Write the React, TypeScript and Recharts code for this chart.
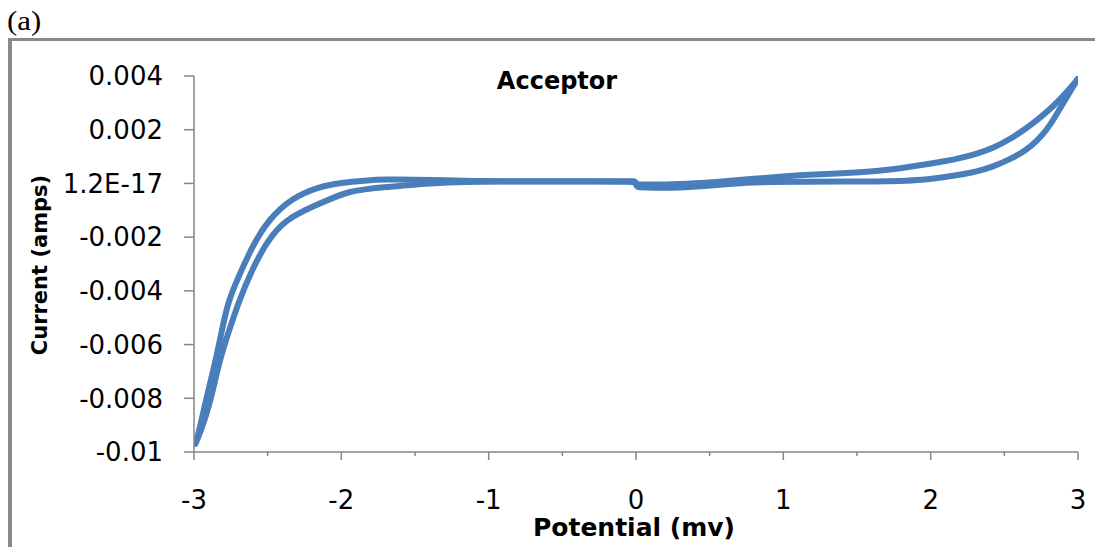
import React from 'react';
import { LineChart, Line, XAxis, YAxis } from 'recharts';

// Forward scan (upper branch), potential in mV, current in amps
const forwardPotential = [-3.0, -2.98, -2.925, -2.857, -2.812, -2.769, -2.7, -2.606, -2.498, -2.335, -2.158, -2.0, -1.839, -1.7, -1.5, -1.3, -1.1, -0.9, -0.6, -0.3, -0.02, -0.01, -0.01, 0.01, 0.01, 0.2, 0.4, 0.6, 0.8, 1.0, 1.16, 1.4, 1.609, 1.8, 1.948, 2.1, 2.2, 2.32, 2.424, 2.54, 2.654, 2.745, 2.83, 2.915, 2.993, 3.0];
const forwardCurrent = [-0.0097, -0.0096, -0.0082, -0.0067, -0.0055, -0.0044, -0.0035, -0.00236, -0.00136, -0.00054, -0.00013, 0.00003, 0.00011, 0.00015, 0.00014, 0.00012, 0.00009, 0.00008, 0.00008, 0.00008, 0.00008, 0.00008, 0.00008, -0.00004, -0.00004, -0.00005, 0.0, 0.00008, 0.00017, 0.00026, 0.00032, 0.00038, 0.00044, 0.00057, 0.00069, 0.00083, 0.00094, 0.00112, 0.00132, 0.00165, 0.00207, 0.00246, 0.00286, 0.00334, 0.00385, 0.0039];

// Reverse scan (lower branch)
const reversePotential = [3.0, 2.95, 2.9, 2.85, 2.788, 2.72, 2.652, 2.54, 2.426, 2.32, 2.199, 2.05, 1.948, 1.8, 1.609, 1.4, 1.161, 0.9, 0.774, 0.5, 0.3, 0.1, 0.01, 0.01, -0.01, -0.01, -0.3, -0.6, -0.9, -1.147, -1.4, -1.6, -1.738, -1.839, -1.941, -2.043, -2.199, -2.382, -2.498, -2.606, -2.7, -2.769, -2.823, -2.891, -2.952, -2.99];
const reverseCurrent = [0.0039, 0.00345, 0.003, 0.00252, 0.00199, 0.00158, 0.00125, 0.0009, 0.00063, 0.00045, 0.00032, 0.0002, 0.00013, 0.00009, 0.00007, 0.00007, 0.00007, 0.00005, 0.00004, -0.00008, -0.00017, -0.00016, -0.00014, -0.00014, 0.00006, 0.00006, 0.00007, 0.00007, 0.00007, 0.00006, 0.0, -0.00009, -0.00015, -0.00022, -0.0003, -0.0005, -0.00087, -0.00136, -0.0021, -0.0032, -0.00445, -0.0056, -0.0065, -0.0082, -0.0092, -0.0097];

const xTickValues = [-3, -2.5, -2, -1.5, -1, -0.5, 0, 0.5, 1, 1.5, 2, 2.5, 3];
const xMajorValues = [-3, -2, -1, 0, 1, 2, 3];
const xTickLabels = ['-3', '-2', '-1', '0', '1', '2', '3'];

const yTickValues = [-0.01, -0.008, -0.006, -0.004, -0.002, 0, 0.002, 0.004];
const yTickLabels = ['-0.01', '-0.008', '-0.006', '-0.004', '-0.002', '1.2E-17', '0.002', '0.004'];

const forwardData = forwardPotential.map((x, i) => ({ x, y: forwardCurrent[i] }));
const reverseData = reversePotential.map((x, i) => ({ x, y: reverseCurrent[i] }));

const AXIS = '#868686';
const BLUE = '#4a7ebb';
const FONT = '"DejaVu Sans", sans-serif';

const XTick = (props: any) => {
  const { x, y, payload } = props;
  const v = payload.value;
  const idx = xMajorValues.findIndex((m) => Math.abs(m - v) < 1e-9);
  const major = idx >= 0;
  return (
    <g>
      <line x1={x} x2={x} y1={y} y2={y + (major ? 8 : 4)} stroke={AXIS} strokeWidth={1.5} />
      {major && (
        <text x={x} y={y + 57} textAnchor="middle" fontFamily={FONT} fontSize={26} fill="#000">
          {xTickLabels[idx]}
        </text>
      )}
    </g>
  );
};

const yFormat = (v: number) => {
  const idx = yTickValues.findIndex((t) => Math.abs(t - v) < 1e-9);
  return idx >= 0 ? yTickLabels[idx] : String(v);
};

export default function App() {
  return (
    <div style={{ position: 'fixed', left: 0, top: 0, width: 1095, height: 547, overflow: 'hidden', background: '#fff' }}>
      <div style={{ position: 'absolute', left: 7, top: 6, fontFamily: '"Liberation Serif", serif', fontSize: 28, color: '#000', lineHeight: '30px', transform: 'scaleX(1.1)', transformOrigin: 'left top' }}>(a)</div>
      <div style={{ position: 'absolute', left: 8, top: 38, width: 1087, height: 3, background: '#898989' }} />
      <div style={{ position: 'absolute', left: 8, top: 38, width: 4, height: 509, background: '#898989' }} />
      <div style={{ position: 'absolute', left: 0, top: 0 }}>
        <LineChart width={1095} height={547} data={forwardData} margin={{ top: 76, right: 17, bottom: 35, left: 44 }}>
          <XAxis
            type="number"
            dataKey="x"
            domain={[-3, 3]}
            ticks={xTickValues}
            interval={0}
            allowDataOverflow
            height={60}
            tickSize={0}
            tickMargin={0}
            tickLine={false}
            axisLine={{ stroke: AXIS, strokeWidth: 1.5 }}
            tick={<XTick />}
          />
          <YAxis
            type="number"
            dataKey="y"
            domain={[-0.01, 0.004]}
            ticks={yTickValues}
            interval={0}
            allowDataOverflow
            width={150}
            tickSize={10}
            tickMargin={21}
            tickFormatter={yFormat}
            tickLine={{ stroke: AXIS, strokeWidth: 1.5 }}
            axisLine={{ stroke: AXIS, strokeWidth: 1.5 }}
            tick={{ fontFamily: FONT, fontSize: 26, fill: '#000' }}
          />
          <Line data={forwardData} dataKey="y" type="basis" stroke={BLUE} strokeWidth={6} dot={false} activeDot={false} isAnimationActive={false} strokeLinejoin="round" strokeLinecap="round" />
          <Line data={reverseData} dataKey="y" type="basis" stroke={BLUE} strokeWidth={6} dot={false} activeDot={false} isAnimationActive={false} strokeLinejoin="round" strokeLinecap="round" />
        </LineChart>
      </div>
      <div style={{ position: 'absolute', left: 457, top: 66, width: 200, textAlign: 'center', fontFamily: FONT, fontWeight: 'bold', fontSize: 24, color: '#000', lineHeight: '30px' }}>Acceptor</div>
      <div style={{ position: 'absolute', left: 484, top: 512, width: 300, textAlign: 'center', fontFamily: FONT, fontWeight: 'bold', fontSize: 25, color: '#000', lineHeight: '32px' }}>Potential (mv)</div>
      <div style={{ position: 'absolute', left: 40, top: 265, width: 0, height: 0 }}>
        <div style={{ position: 'absolute', left: -150, top: -15, width: 300, textAlign: 'center', transform: 'rotate(-90deg)', fontFamily: FONT, fontWeight: 'bold', fontSize: 21, color: '#000', lineHeight: '30px', whiteSpace: 'nowrap' }}>Current (amps)</div>
      </div>
    </div>
  );
}
